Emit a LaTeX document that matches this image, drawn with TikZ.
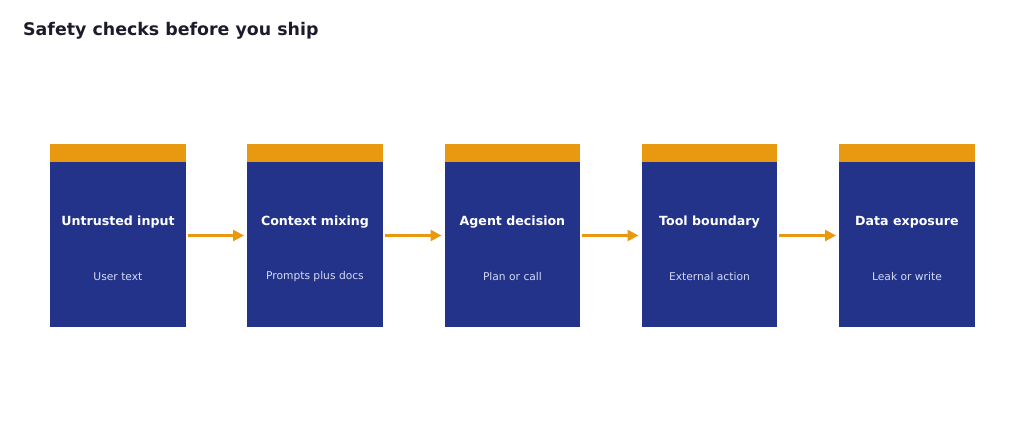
\documentclass[tikz,border=0pt]{standalone}
\usepackage{fontspec}
\setmainfont{DejaVu Sans}
\usetikzlibrary{arrows.meta}
\definecolor{boxblue}{HTML}{23338A}
\definecolor{bandorange}{HTML}{E8990F}
\definecolor{titleink}{HTML}{1B1B2B}
\definecolor{subink}{HTML}{D6DAF2}
\tikzset{
  stagebox/.style={fill=boxblue, draw=none, minimum width=135.5pt, minimum height=165pt, inner sep=0pt, anchor=north west},
  band/.style={fill=bandorange, draw=none, minimum width=135.5pt, minimum height=18pt, inner sep=0pt, anchor=north west},
  headtxt/.style={text=white, font=\fontsize{12.6}{14}\selectfont\bfseries},
  subtxt/.style={text=subink, font=\fontsize{10.7}{12}\selectfont},
  flow/.style={draw=bandorange, line width=2.5pt, -{Triangle[length=11pt,width=11pt]}, shorten <=2pt, shorten >=3pt}
}
\begin{document}
\begin{tikzpicture}[x=1pt,y=-1pt]
\useasboundingbox (0,0) rectangle (1024,441);
\node[anchor=base west, text=titleink, font=\fontsize{17.4}{20}\selectfont\bfseries, inner sep=0pt] (title) at (23,36) {Safety checks before you ship};
\foreach \i/\x/\h/\s in {1/50/Untrusted input/User text, 2/247/Context mixing/Prompts plus docs, 3/444.5/Agent decision/Plan or call, 4/641.5/Tool boundary/External action, 5/839/Data exposure/Leak or write}{
  \node[stagebox] (b\i) at (\x,162) {};
  \node[band] (o\i) at (\x,144) {};
  \node[headtxt] (h\i) at ([yshift=-60.5pt]b\i.north) {\h};
  \node[subtxt] (s\i) at ([yshift=-115pt]b\i.north) {\s};
}
\foreach \a/\b in {1/2,2/3,3/4,4/5}{
  \draw[flow] ([yshift=-73.5pt]b\a.north east) -- ([yshift=-73.5pt]b\b.north west);
}
\end{tikzpicture}
\end{document}
